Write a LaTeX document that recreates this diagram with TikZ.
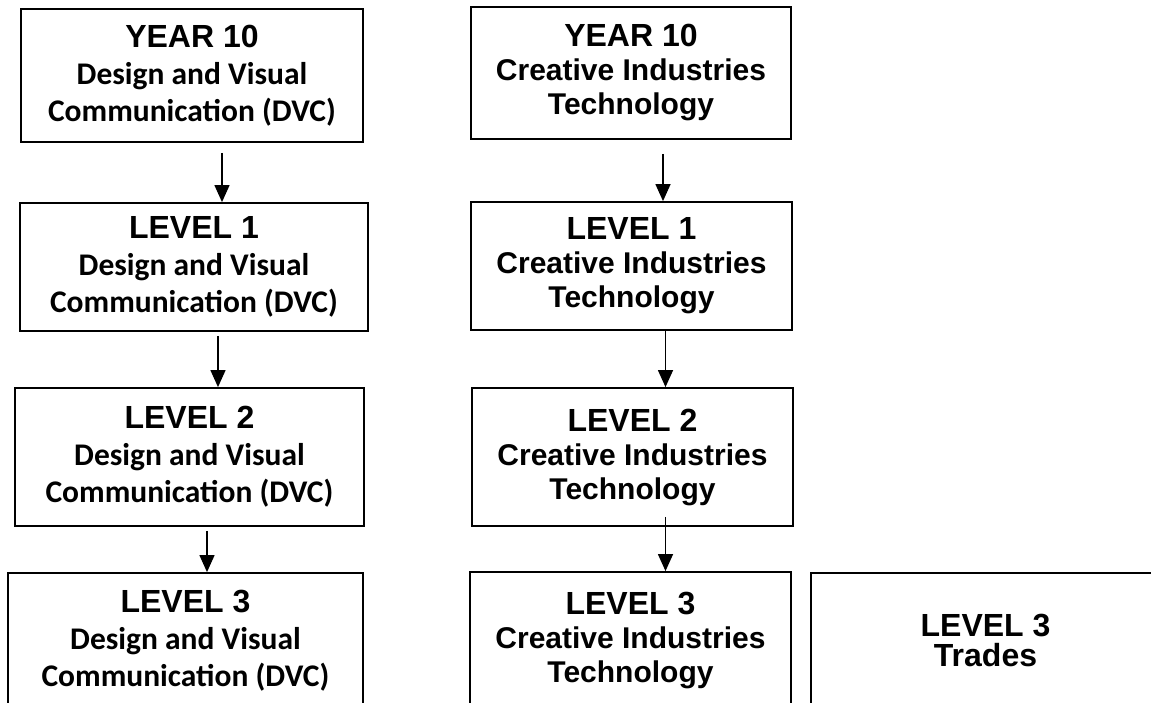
\documentclass[tikz,border=0pt]{standalone}
\usepackage{fontspec}
\usepackage{tikz}
\usetikzlibrary{arrows.meta}
\newfontfamily\arialfont{Liberation Sans}
\newfontfamily\calfont{Carlito}
\newcommand{\hd}[1]{{\fontsize{32}{36}\selectfont #1}}
\newcommand{\dvc}[1]{{\calfont\fontsize{31.5}{37}\selectfont #1}}

\tikzset{
  lvlbox/.style={draw, line width=1.8pt, align=center, inner sep=0pt,
    font=\arialfont\bfseries\fontsize{30}{37}\selectfont},
  citbox/.style={lvlbox, font=\arialfont\bfseries\fontsize{30}{34}\selectfont},
  flow/.style={line width=1.3pt, -{Triangle[length=17pt,width=15pt]}}
}

\begin{document}
\begin{tikzpicture}[x=1pt,y=-1pt]

		\clip (0,0) rectangle (1151,702);

		% left column
		\node[lvlbox, minimum width=342pt, minimum height=133pt] (dvcY) at (192,75.5) {\hd{YEAR 10}\\ \dvc{Design and Visual}\\ \dvc{Communication (DVC)}};
		\node[lvlbox, minimum width=348pt, minimum height=128pt] (dvcA) at (194,267) {\hd{LEVEL 1}\\ \dvc{Design and Visual}\\ \dvc{Communication (DVC)}};
		\node[lvlbox, minimum width=349pt, minimum height=138pt] (dvcB) at (189.5,457) {\hd{LEVEL 2}\\ \dvc{Design and Visual}\\ \dvc{Communication (DVC)}};
		\node[lvlbox, minimum width=355pt, minimum height=135pt] (dvcC) at (185.5,640.5) {\hd{LEVEL 3}\\ \dvc{Design and Visual}\\ \dvc{Communication (DVC)}};

		% right column
		\node[citbox, minimum width=320pt, minimum height=132pt] (citY) at (631,73) {\hd{YEAR 10}\\ Creative Industries\\ Technology};
		\node[citbox, minimum width=321pt, minimum height=128pt] (citA) at (631.5,266) {\hd{LEVEL 1}\\ Creative Industries\\ Technology};
		\node[citbox, minimum width=321pt, minimum height=138pt] (citB) at (632.5,457) {\hd{LEVEL 2}\\ Creative Industries\\ Technology};
		\node[citbox, minimum width=321pt, minimum height=136pt] (citC) at (630.5,640) {\hd{LEVEL 3}\\ Creative Industries\\ Technology};

		\node[lvlbox, font=\arialfont\bfseries\fontsize{32}{30}\selectfont, minimum width=349pt, minimum height=135pt] (trades) at (985.5,640.5) {LEVEL 3\\ Trades};

		\draw[flow, shorten <=10pt] ([xshift=30pt]dvcY.south) -- ([xshift=28pt]dvcA.north);
		\draw[flow, shorten <=4pt] ([xshift=24pt]dvcA.south) -- ([xshift=28.5pt]dvcB.north);
		\draw[flow, shorten <=4pt] ([xshift=17.5pt]dvcB.south) -- ([xshift=21.5pt]dvcC.north);

		\draw[flow, shorten <=14pt] ([xshift=32pt]citY.south) -- ([xshift=31.5pt]citA.north);
		\draw[flow] ([xshift=34pt]citA.south) -- ([xshift=33pt]citB.north);
		\draw[flow] ([xshift=33pt,yshift=10pt]citB.south) -- ([xshift=35pt]citC.north);

\end{tikzpicture}
\end{document}
